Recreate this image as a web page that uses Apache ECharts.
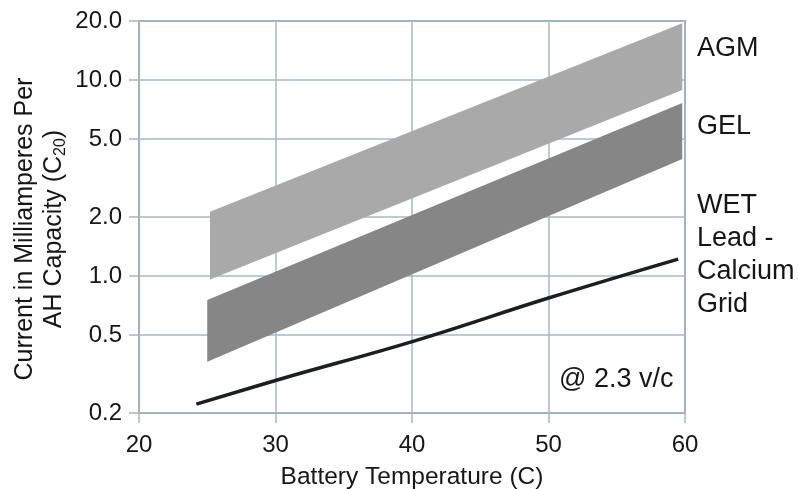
<!DOCTYPE html>
<html>
<head>
<meta charset="utf-8">
<script src="https://cdn.jsdelivr.net/npm/echarts@6/dist/echarts.min.js"></script>
<style>
  html, body { margin: 0; padding: 0; background: #ffffff; }
  #chart { width: 798px; height: 489px; }
</style>
</head>
<body>
<div id="chart"></div>
<script>
// ---- data ----
const xTickValues = [20, 30, 40, 50, 60];
const yTickValues = [0.2, 0.5, 1, 2, 5, 10, 20];

// AGM band (lower / upper limit)
const agmTemp = [25.2, 59.8];
const agmLow  = [0.96, 8.9];
const agmHigh = [2.13, 19.5];

// GEL band (lower / upper limit)
const gelTemp = [25.0, 59.8];
const gelLow  = [0.365, 3.95];
const gelHigh = [0.754, 7.63];

// WET Lead-Calcium Grid line
const wetTemp = [24.2, 30.5, 40.2, 50.0, 59.5];
const wetCurr = [0.222, 0.300, 0.467, 0.772, 1.22];

const sideLabels = ['AGM', 'GEL', 'WET\nLead -\nCalcium\nGrid'];
const noteText = '@ 2.3 v/c';

// ---- chart ----
const FONT = '"Liberation Sans", Arial, Helvetica, sans-serif';
const TXT = '#161616';
const GRIDC = '#a9b7c4';

function bandSeries(name, xs, lows, highs, color) {
  return {
    type: 'custom',
    name: name,
    coordinateSystem: 'cartesian2d',
    silent: true,
    z: 2,
    data: xs.map((x, i) => [x, lows[i], highs[i]]),
    encode: { x: 0, y: [1, 2] },
    renderItem: function (params, api) {
      if (params.dataIndex !== 0) return null;
      const top = xs.map((x, i) => api.coord([x, highs[i]]));
      const bot = xs.map((x, i) => api.coord([x, lows[i]])).reverse();
      return {
        type: 'polygon',
        shape: { points: top.concat(bot) },
        style: { fill: color }
      };
    }
  };
}

const chart = echarts.init(document.getElementById('chart'), null, { renderer: 'canvas' });

chart.setOption({
  animation: false,
  backgroundColor: '#ffffff',
  grid: {
    left: 139, right: 113, top: 21, bottom: 76,
    containLabel: false,
    outerBoundsMode: 'none',
    show: true, borderColor: '#93a3b2', borderWidth: 2, backgroundColor: 'transparent'
  },
  xAxis: {
    type: 'value',
    min: xTickValues[0],
    max: xTickValues[xTickValues.length - 1],
    interval: 10,
    axisLine: { show: false },
    axisTick: { show: true, inside: false, length: 10, lineStyle: { color: GRIDC, width: 1.5 } },
    splitLine: { show: true, lineStyle: { color: GRIDC, width: 1.5 } },
    axisLabel: { color: TXT, fontFamily: FONT, fontSize: 24, margin: 20, showMinLabel: true, showMaxLabel: true },
    name: 'Battery Temperature (C)',
    nameLocation: 'middle',
    nameGap: 52,
    nameTextStyle: { color: TXT, fontFamily: FONT, fontSize: 24.5 }
  },
  yAxis: {
    type: 'log',
    logBase: 10,
    min: yTickValues[0],
    max: yTickValues[yTickValues.length - 1],
    axisLine: { show: false },
    axisTick: { show: true, length: 10, customValues: yTickValues, lineStyle: { color: GRIDC, width: 1.5 } },
    splitLine: { show: true, lineStyle: { color: GRIDC, width: 1.5 } },
    axisLabel: {
      customValues: yTickValues,
      color: TXT, fontFamily: FONT, fontSize: 24, margin: 17,
      formatter: v => Number(v).toFixed(1)
    }
  },
  graphic: [
    {
      type: 'text', x: 40, y: 229, rotation: Math.PI / 2,
      style: {
        text: 'Current in Milliamperes Per\nAH Capacity (C{sub|20})',
        fill: TXT, font: '25px ' + FONT, align: 'center', verticalAlign: 'middle', lineHeight: 29,
        rich: { sub: { fontSize: 16, fontFamily: FONT, fill: TXT, verticalAlign: 'bottom', lineHeight: 22 } }
      }
    },
    { type: 'text', left: 697, top: 35, style: { text: sideLabels[0], fill: TXT, font: '27px ' + FONT } },
    { type: 'text', left: 697, top: 113, style: { text: sideLabels[1], fill: TXT, font: '27px ' + FONT } },
    { type: 'text', left: 697, top: 189, style: { text: sideLabels[2], fill: TXT, font: '27px ' + FONT, lineHeight: 33 } },
    { type: 'text', left: 559, top: 366, style: { text: noteText, fill: TXT, font: '27px ' + FONT } }
  ],
  series: [
    bandSeries('AGM', agmTemp, agmLow, agmHigh, '#a9a9a9'),
    bandSeries('GEL', gelTemp, gelLow, gelHigh, '#868686'),
    {
      type: 'line',
      name: 'WET Lead - Calcium Grid',
      data: wetTemp.map((x, i) => [x, wetCurr[i]]),
      symbol: 'none',
      smooth: 0.4,
      z: 3,
      lineStyle: { color: '#1b1f1f', width: 3.5 }
    }
  ]
});
</script>
</body>
</html>
